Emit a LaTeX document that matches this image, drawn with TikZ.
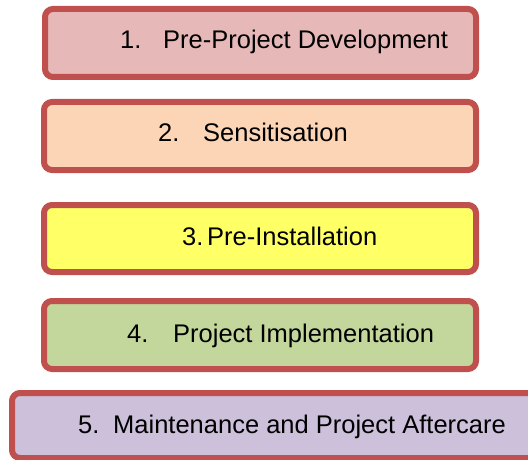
\documentclass[tikz,border=0pt]{standalone}
\usepackage{fontspec}
\setmainfont{Liberation Sans}
\usetikzlibrary{positioning}

\definecolor{edge}{HTML}{C0504D}
\definecolor{rose}{HTML}{E6B9B8}
\definecolor{peach}{HTML}{FBD5B5}
\definecolor{lemon}{HTML}{FFFF66}
\definecolor{sage}{HTML}{C3D69B}
\definecolor{lilac}{HTML}{CCC0DA}

\tikzset{
	stage/.style={draw=edge, line width=6pt, rounded corners=8pt, inner sep=0pt,
		minimum height=68pt},
	lbl/.style={anchor=base west, inner sep=0pt, font=\fontsize{25.5}{30}\selectfont}
}

\begin{document}
\begin{tikzpicture}[x=1pt, y=-1pt]
		\useasboundingbox (0,0) rectangle (528,460);
		\clip (0,0) rectangle (528,460);

		% the five stages, top to bottom
		\node[stage, fill=rose, minimum width=431pt] (s1) at (260.5,43) {};
		\node[stage, fill=peach, minimum width=432pt] (s2) at (260,136) {};
		\node[stage, fill=lemon, minimum width=432pt, minimum height=67pt] (s3) at (260,238.5) {};
		\node[stage, fill=sage, minimum width=432pt] (s4) at (260,335) {};
		\node[stage, fill=lilac, minimum width=528pt, minimum height=65pt] (s5) at (276,425.5) {};

		% numbers and titles
		\node[lbl] (n1) at (120,49) {1.};
		\node[lbl] (t1) at (163,49) {Pre-Project Development};
		\node[lbl] (n2) at (158,141) {2.};
		\node[lbl] (t2) at (203,141) {Sensitisation};
		\node[lbl] (n3) at (182,245) {3.};
		\node[lbl] (t3) at (207,245) {Pre-Installation};
		\node[lbl] (n4) at (127,342) {4.};
		\node[lbl] (t4) at (173,342) {Project Implementation};
		\node[lbl] (n5) at (78,433) {5.};
		\node[lbl] (t5) at (113,433) {Maintenance and Project Aftercare};
\end{tikzpicture}
\end{document}
